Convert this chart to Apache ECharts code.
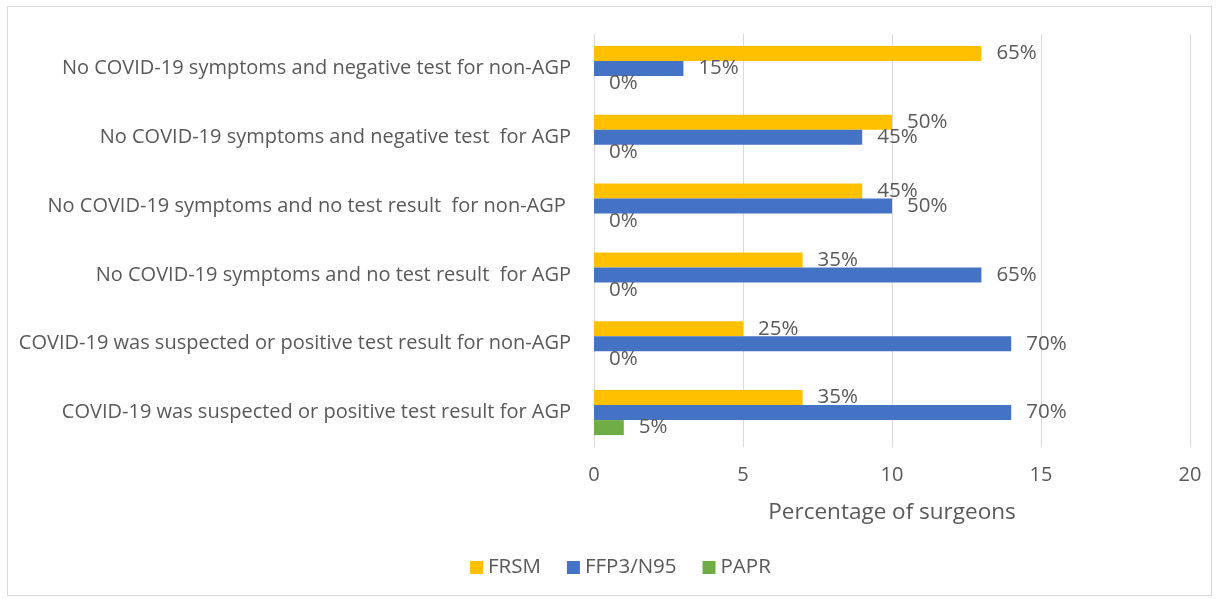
<!DOCTYPE html>
<html lang="en">
<head>
    <meta charset="UTF-8">
    <title>PPE use by surgeons</title>
    <style>
        body {
            margin: 0;
            padding: 0;
            background: #ffffff;
        }

        #chart-container {
            position: absolute;
            left: 7px;
            top: 6px;
            width: 1205px;
            height: 590px;
            border: 1px solid #d9d9d9;
            box-sizing: border-box;
        }
    </style>
    <script src="https://cdn.jsdelivr.net/npm/echarts@6/dist/echarts.min.js"></script>
</head>
<body>
    <div id="chart-container"></div>

    <script>
        // number of surgeons (out of 20) per scenario, top row first
        const categories = [
            'No COVID-19 symptoms and negative test for non-AGP',
            'No COVID-19 symptoms and negative test  for AGP',
            'No COVID-19 symptoms and no test result  for non-AGP ',
            'No COVID-19 symptoms and no test result  for AGP',
            'COVID-19 was suspected or positive test result for non-AGP',
            'COVID-19 was suspected or positive test result for AGP'
        ];
        const frsm = [13, 10, 9, 7, 5, 7];
        const ffp3 = [3, 9, 10, 13, 14, 14];
        const papr = [0, 0, 0, 0, 0, 1];
        const totalSurgeons = 20;

        const font = 'Open Sans';
        const textColor = '#595959';

        function makeSeries(name, data, color) {
            return {
                name: name,
                type: 'bar',
                data: data,
                barWidth: 15,
                barGap: '0%',
                itemStyle: { color: color },
                label: {
                    show: true,
                    position: 'right',
                    distance: 15,
                    fontFamily: font,
                    fontSize: 20.5,
                    color: textColor,
                    formatter: function (p) {
                        return Math.round(p.value / totalSurgeons * 100) + '%';
                    }
                }
            };
        }

        var chart = echarts.init(document.getElementById('chart-container'));

        var option = {
            animation: false,
            textStyle: { fontFamily: font },
            grid: {
                left: 586,
                right: 21,
                top: 27,
                bottom: 148,
                outerBoundsMode: 'none'
            },
            legend: {
                top: 545,
                left: 457,
                itemWidth: 13,
                itemHeight: 13,
                itemGap: 26,
                icon: 'rect',
                textStyle: {
                    fontFamily: font,
                    fontSize: 20.5,
                    color: textColor
                },
                data: ['FRSM', 'FFP3/N95', 'PAPR']
            },
            xAxis: {
                type: 'value',
                min: 0,
                max: 20,
                interval: 5,
                name: 'Percentage of surgeons',
                nameLocation: 'middle',
                nameGap: 54,
                nameTextStyle: {
                    fontFamily: font,
                    fontSize: 22.5,
                    color: textColor
                },
                axisLine: { show: false },
                axisTick: { show: false },
                axisLabel: {
                    margin: 18,
                    fontFamily: font,
                    fontSize: 20,
                    color: textColor
                },
                splitLine: {
                    lineStyle: { color: '#d9d9d9', width: 1 }
                }
            },
            yAxis: {
                type: 'category',
                inverse: true,
                data: categories,
                axisLine: { show: false },
                axisTick: { show: false },
                axisLabel: {
                    margin: 23,
                    fontFamily: font,
                    fontSize: 20,
                    color: textColor
                }
            },
            series: [
                makeSeries('FRSM', frsm, '#FFC000'),
                makeSeries('FFP3/N95', ffp3, '#4472C4'),
                makeSeries('PAPR', papr, '#70AD47')
            ]
        };

        chart.setOption(option);
    </script>
</body>
</html>
